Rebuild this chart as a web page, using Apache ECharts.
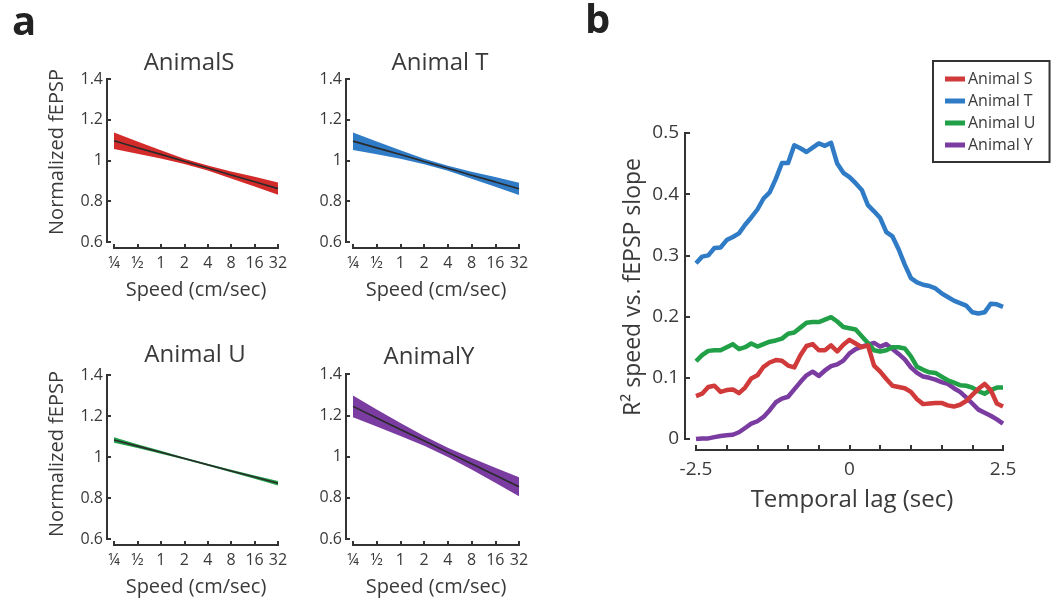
<!DOCTYPE html>
<html>
<head>
<meta charset="utf-8">
<script src="https://cdn.jsdelivr.net/npm/echarts@6/dist/echarts.min.js"></script>
<style>
  html, body { margin: 0; padding: 0; background: #fff; }
  #chart { width: 1052px; height: 602px; }
</style>
</head>
<body>
<div id="chart"></div>
<script>
// ---- Panel a: regression fits of normalized fEPSP vs running speed ----
const speedLabels = ['\u00BC', '\u00BD', '1', '2', '4', '8', '16', '32'];

const fitS  = [1.097, 1.063, 1.030, 0.996, 0.963, 0.929, 0.896, 0.862];
const hiS   = [1.137, 1.093, 1.050, 1.009, 0.975, 0.946, 0.920, 0.892];
const loS   = [1.057, 1.033, 1.010, 0.983, 0.951, 0.912, 0.872, 0.832];

const fitT  = [1.095, 1.062, 1.029, 0.995, 0.962, 0.928, 0.895, 0.861];
const hiT   = [1.138, 1.093, 1.050, 1.008, 0.974, 0.945, 0.919, 0.891];
const loT   = [1.052, 1.031, 1.008, 0.982, 0.950, 0.911, 0.871, 0.831];

const fitU  = [1.083, 1.053, 1.023, 0.993, 0.962, 0.932, 0.902, 0.872];
const hiU   = [1.096, 1.062, 1.030, 0.998, 0.967, 0.938, 0.910, 0.883];
const loU   = [1.070, 1.044, 1.016, 0.988, 0.957, 0.926, 0.894, 0.861];

const fitY  = [1.243, 1.187, 1.131, 1.076, 1.020, 0.965, 0.909, 0.853];
const hiY   = [1.296, 1.228, 1.162, 1.100, 1.042, 0.993, 0.945, 0.899];
const loY   = [1.190, 1.146, 1.100, 1.052, 0.998, 0.937, 0.873, 0.807];

// ---- Panel b: R^2 of speed vs fEPSP slope across temporal lags ----
const lags = [-2.5, -2.4, -2.3, -2.2, -2.1, -2.0, -1.9, -1.8, -1.7, -1.6, -1.5,
              -1.4, -1.3, -1.2, -1.1, -1.0, -0.9, -0.8, -0.7, -0.6, -0.5,
              -0.4, -0.3, -0.2, -0.1, 0.0, 0.1, 0.2, 0.3, 0.4, 0.5,
              0.6, 0.7, 0.8, 0.9, 1.0, 1.1, 1.2, 1.3, 1.4, 1.5,
              1.6, 1.7, 1.8, 1.9, 2.0, 2.1, 2.2, 2.3, 2.4, 2.5];

const r2S = [0.070, 0.074, 0.085, 0.087, 0.077, 0.080, 0.081, 0.075, 0.084, 0.099, 0.104,
             0.118, 0.125, 0.129, 0.128, 0.120, 0.117, 0.137, 0.152, 0.155, 0.145,
             0.145, 0.153, 0.143, 0.154, 0.162, 0.156, 0.150, 0.153, 0.120, 0.110,
             0.098, 0.087, 0.085, 0.083, 0.077, 0.065, 0.057, 0.058, 0.059, 0.059,
             0.055, 0.053, 0.056, 0.062, 0.072, 0.082, 0.090, 0.080, 0.058, 0.053];

const r2T = [0.287, 0.298, 0.300, 0.312, 0.313, 0.325, 0.330, 0.336, 0.350, 0.362, 0.375,
             0.393, 0.403, 0.425, 0.451, 0.451, 0.480, 0.475, 0.469, 0.476, 0.483,
             0.479, 0.484, 0.450, 0.435, 0.428, 0.418, 0.407, 0.382, 0.372, 0.361,
             0.338, 0.331, 0.310, 0.285, 0.263, 0.256, 0.252, 0.250, 0.246, 0.238,
             0.232, 0.226, 0.222, 0.218, 0.207, 0.205, 0.207, 0.221, 0.220, 0.216];

const r2U = [0.127, 0.137, 0.144, 0.145, 0.145, 0.150, 0.155, 0.147, 0.150, 0.156, 0.151,
             0.155, 0.159, 0.161, 0.164, 0.172, 0.174, 0.182, 0.190, 0.191, 0.191,
             0.195, 0.199, 0.192, 0.183, 0.181, 0.179, 0.168, 0.157, 0.145, 0.143,
             0.145, 0.150, 0.150, 0.148, 0.135, 0.118, 0.113, 0.109, 0.108, 0.102,
             0.096, 0.092, 0.088, 0.087, 0.084, 0.078, 0.074, 0.080, 0.084, 0.084];

const r2Y = [0.000, 0.001, 0.001, 0.003, 0.005, 0.006, 0.007, 0.011, 0.018, 0.025, 0.029,
             0.036, 0.047, 0.060, 0.066, 0.069, 0.081, 0.093, 0.104, 0.110, 0.103,
             0.112, 0.119, 0.122, 0.128, 0.140, 0.147, 0.151, 0.154, 0.157, 0.151,
             0.155, 0.147, 0.139, 0.130, 0.117, 0.108, 0.102, 0.100, 0.097, 0.093,
             0.090, 0.083, 0.077, 0.068, 0.058, 0.048, 0.043, 0.038, 0.032, 0.025];

const lagLabelled = [-2.5, 0, 2.5];

const COLORS = { S: '#d32a2a', T: '#2f7bc6', U: '#22a048', Y: '#7a3ca0' };
const TEXT = '#3a3a3a';
const AXIS = '#333333';
const TICK = '#353535';
const FONT = '"Open Sans", "Noto Sans", sans-serif';

const chart = echarts.init(document.getElementById('chart'));

// Small-multiple layout for panel a
const panels = [
  { key: 'S', name: 'AnimalS',  fit: fitS, hi: hiS, lo: loS, left: 114, top: 79,  width: 164, height: 163, tx: 189, ty: 63,  showY: true,  yl: 152 },
  { key: 'T', name: 'Animal T', fit: fitT, hi: hiT, lo: loT, left: 353, top: 79,  width: 166, height: 163, tx: 440, ty: 63,  showY: false },
  { key: 'U', name: 'Animal U', fit: fitU, hi: hiU, lo: loU, left: 114, top: 375, width: 164, height: 164, tx: 195, ty: 355, showY: true,  yl: 454 },
  { key: 'Y', name: 'AnimalY',  fit: fitY, hi: hiY, lo: loY, left: 353, top: 374, width: 166, height: 165, tx: 429, ty: 357, showY: false }
];
const OFF_X = 6, OFF_Y = 7;

const grids = [], xAxes = [], yAxes = [], series = [], graphics = [];

// Detached axis spines (offset from the plotting area), drawn as thin filled bars
function spines(g, offX, offY) {
  graphics.push({ type: 'rect', silent: true, z: 50,
    shape: { x: g.left - offY - 1, y: g.top - 1, width: 2, height: g.height + 2 },
    style: { fill: AXIS } });
  graphics.push({ type: 'rect', silent: true, z: 50,
    shape: { x: g.left - 1, y: g.top + g.height + offX - 1, width: g.width + 2, height: 2 },
    style: { fill: AXIS } });
}

panels.forEach((p, i) => {
  const g = { left: p.left, top: p.top, width: p.width, height: p.height };
  grids.push(g);
  spines(g, OFF_X, OFF_Y);
  xAxes.push({
    gridIndex: i, type: 'category', data: speedLabels, boundaryGap: false, offset: OFF_X,
    axisLine: { show: true, onZero: false, lineStyle: { color: AXIS, width: 2 } },
    axisTick: { show: true, inside: true, length: 4, alignWithLabel: true, lineStyle: { color: TICK, width: 2 } },
    axisLabel: { color: TEXT, fontSize: 16, fontFamily: FONT, margin: 7, interval: 0 },
    splitLine: { show: false }
  });
  yAxes.push({
    gridIndex: i, type: 'value', min: 0.6, max: 1.4, interval: 0.2, offset: OFF_Y,
    axisLine: { show: true, onZero: false, lineStyle: { color: AXIS, width: 2 } },
    axisTick: { show: true, inside: true, length: 4, lineStyle: { color: TICK, width: 2 } },
    axisLabel: { color: TEXT, fontSize: 16, fontFamily: FONT, margin: 4,
                 formatter: v => String(+v.toFixed(1)) },
    splitLine: { show: false }
  });
  const bandWidth = p.hi.map((h, j) => +(h - p.lo[j]).toFixed(4));
  series.push({
    type: 'line', xAxisIndex: i, yAxisIndex: i, data: p.lo, stack: 'band' + i,
    symbol: 'none', lineStyle: { opacity: 0 }, silent: true, z: 2
  });
  series.push({
    type: 'line', xAxisIndex: i, yAxisIndex: i, data: bandWidth, stack: 'band' + i,
    symbol: 'none', lineStyle: { opacity: 0 }, areaStyle: { color: COLORS[p.key], opacity: 1 },
    silent: true, z: 2
  });
  series.push({
    type: 'line', xAxisIndex: i, yAxisIndex: i, data: p.fit,
    symbol: 'none', lineStyle: { color: '#2a2a2a', width: 1.6 }, silent: true, z: 3
  });

  graphics.push({ type: 'text', x: p.tx, y: p.ty,
    style: { text: p.name, fill: TEXT, font: '24px ' + FONT, align: 'center', verticalAlign: 'middle' } });
  graphics.push({ type: 'text', x: p.left + p.width / 2, y: p.top + p.height + 48,
    style: { text: 'Speed (cm/sec)', fill: TEXT, font: '20px ' + FONT, align: 'center', verticalAlign: 'middle' } });
  if (p.showY) {
    graphics.push({ type: 'text', x: 57, y: p.yl, rotation: Math.PI / 2,
      style: { text: 'Normalized fEPSP', fill: TEXT, font: '20px ' + FONT, align: 'center', verticalAlign: 'middle' } });
  }
});

// Panel b grid
const gb = grids.length;
const gridB = { left: 696, top: 133, width: 307, height: 306 };
grids.push(gridB);
spines(gridB, 11, 11);
xAxes.push({
  gridIndex: gb, type: 'value', min: -2.5, max: 2.5, interval: 0.5, offset: 11,
  axisLine: { show: true, onZero: false, lineStyle: { color: AXIS, width: 2 } },
  axisTick: { show: true, inside: true, length: 5, lineStyle: { color: TICK, width: 2 } },
  axisLabel: { color: TEXT, fontSize: 19, fontFamily: FONT, margin: 10,
    formatter: v => lagLabelled.some(t => Math.abs(t - v) < 1e-6) ? String(+v.toFixed(1)) : '' },
  splitLine: { show: false }
});
yAxes.push({
  gridIndex: gb, type: 'value', min: 0, max: 0.5, interval: 0.1, offset: 11,
  axisLine: { show: true, onZero: false, lineStyle: { color: AXIS, width: 2 } },
  axisTick: { show: true, inside: true, length: 5, lineStyle: { color: TICK, width: 2 } },
  axisLabel: { color: TEXT, fontSize: 19, fontFamily: FONT, margin: 6,
               formatter: v => String(+v.toFixed(1)) },
  splitLine: { show: false }
});

const bSeries = [
  { name: 'Animal S', data: r2S, color: '#d13a3a', z: 6 },
  { name: 'Animal T', data: r2T, color: COLORS.T, z: 5 },
  { name: 'Animal U', data: r2U, color: COLORS.U, z: 5 },
  { name: 'Animal Y', data: r2Y, color: COLORS.Y, z: 4 }
];
bSeries.forEach(s => {
  series.push({
    name: s.name, type: 'line', xAxisIndex: gb, yAxisIndex: gb,
    data: lags.map((l, j) => [l, s.data[j]]),
    symbol: 'none', color: s.color,
    lineStyle: { color: s.color, width: 4.5, join: 'round' }, z: s.z
  });
});

graphics.push({ type: 'text', x: 852, y: 500,
  style: { text: 'Temporal lag (sec)', fill: TEXT, font: '24px ' + FONT, align: 'center', verticalAlign: 'middle' } });
graphics.push({ type: 'text', x: 633, y: 287, rotation: Math.PI / 2,
  style: { text: 'R\u00B2 speed vs. fEPSP slope', fill: TEXT, font: '23px ' + FONT, align: 'center', verticalAlign: 'middle' } });

// Panel letters
graphics.push({ type: 'text', x: 12, y: 24,
  style: { text: 'a', fill: '#222', font: 'bold 40px ' + FONT, align: 'left', verticalAlign: 'middle' } });
graphics.push({ type: 'text', x: 585, y: 22,
  style: { text: 'b', fill: '#222', font: 'bold 40px ' + FONT, align: 'left', verticalAlign: 'middle' } });

chart.setOption({
  backgroundColor: '#ffffff',
  animation: false,
  grid: grids,
  xAxis: xAxes,
  yAxis: yAxes,
  series: series,
  legend: {
    data: bSeries.map(s => s.name),
    orient: 'vertical', left: 933, top: 61,
    icon: 'rect', itemWidth: 20, itemHeight: 5, itemGap: 4,
    padding: [9, 14, 8, 12],
    borderColor: '#333', borderWidth: 2,
    textStyle: { color: TEXT, fontSize: 16, fontFamily: FONT, lineHeight: 18, padding: [0, 0, 0, -2] }
  },
  graphic: graphics
});
</script>
</body>
</html>
